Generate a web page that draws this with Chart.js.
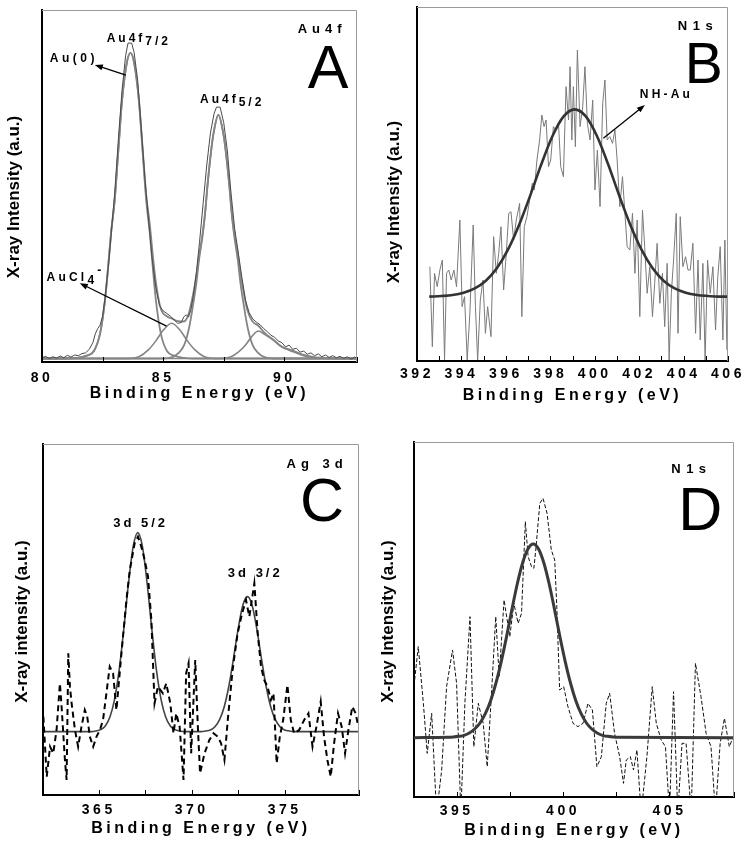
<!DOCTYPE html>
<html>
<head>
<meta charset="utf-8">
<script src="https://cdn.jsdelivr.net/npm/chart.js@4/dist/chart.umd.min.js"></script>
<style>
html,body{margin:0;padding:0;background:#fff;}
#wrap{position:relative;width:748px;height:853px;overflow:hidden;background:#fff;}
canvas{position:absolute;}
</style>
</head>
<body>
<div id="wrap">
<canvas id="cA" width="374" height="420" style="left:0;top:0"></canvas>
<canvas id="cB" width="374" height="420" style="left:374px;top:0"></canvas>
<canvas id="cC" width="374" height="433" style="left:0;top:420px"></canvas>
<canvas id="cD" width="374" height="433" style="left:374px;top:420px"></canvas>
</div>
<script>
// ---------------- DATA ----------------
// Panel A: Au4f  [binding energy (eV), intensity (a.u.)]
const aRaw = [[80.0,1.2],[80.15,1.6],[80.3,1.0],[80.45,1.5],[80.6,1.1],[80.75,1.7],[80.9,1.2],[81.05,1.9],[81.2,1.4],[81.35,2.0],[81.5,1.8],[81.65,2.4],[81.8,2.6],[81.95,3.6],[82.1,5.5],[82.2,8.0],[82.3,9.5],[82.4,10.5],[82.5,13],[82.6,18],[82.75,28],[82.9,40],[83.0,48],[83.15,63],[83.3,77],[83.45,87],[83.55,90.6],[83.7,90.6],[83.8,88],[83.95,80],[84.1,66],[84.25,52],[84.4,40],[84.55,29],[84.7,21],[84.85,16],[85.0,14.5],[85.15,13.8],[85.3,13],[85.45,12],[85.6,11],[85.75,11.2],[85.85,12.8],[85.95,13.4],[86.05,12.8],[86.15,15],[86.25,19],[86.38,26],[86.5,34],[86.65,45],[86.8,56],[86.95,65],[87.1,70.5],[87.2,72.4],[87.35,72.4],[87.5,68],[87.65,60],[87.8,48],[87.95,38],[88.1,31],[88.25,24],[88.4,17.5],[88.55,14],[88.7,12.2],[88.85,11.3],[89.0,10.6],[89.15,9.5],[89.3,8.6],[89.45,7.6],[89.6,7.0],[89.75,6.0],[89.9,5.5],[90.05,4.3],[90.2,4.8],[90.35,3.6],[90.5,3.9],[90.65,2.8],[90.8,3.1],[90.95,2.2],[91.1,2.6],[91.25,1.8],[91.4,2.3],[91.55,1.5],[91.7,2.0],[91.85,1.3],[92.0,1.8],[92.15,1.2],[92.3,1.6],[92.45,1.0],[92.6,1.5],[92.75,0.8],[92.9,1.4],[93.0,1.1]];
const aEnvelope = [[80,1],[81.45,1.2],[81.85,1.8],[82.15,3.2],[82.4,8.2],[82.6,17.6],[82.73,27],[82.85,36.6],[83.0,46],[83.15,60],[83.3,74],[83.5,85],[83.65,87.8],[83.8,85.1],[84.0,74.5],[84.15,61],[84.3,47.5],[84.45,39],[84.57,30.5],[84.7,22.6],[84.9,15.2],[85.15,13],[85.35,12.4],[85.6,11.6],[85.85,11.5],[86.05,13.6],[86.23,19],[86.38,24.9],[86.48,30],[86.63,36.7],[86.73,42.5],[86.83,50.3],[86.98,60],[87.08,65],[87.28,70.2],[87.48,65],[87.58,60.2],[87.73,50.4],[87.83,42.6],[87.93,36.9],[88.08,30.9],[88.18,25.5],[88.33,19.5],[88.48,14.6],[88.68,11.6],[88.93,10.3],[89.2,8.2],[89.55,6.3],[89.9,4.3],[90.37,3.2],[90.8,2.0],[91.3,1.3],[91.8,1.1],[93,1]];
const aAu0_72 = [[80,1],[81.05,1],[81.45,1.2],[81.85,1.8],[82.15,3.2],[82.4,8.2],[82.6,17.6],[82.73,27],[82.85,36.6],[83.0,46],[83.15,60],[83.3,74],[83.5,85],[83.65,87.8],[83.8,85],[84.0,74],[84.15,60],[84.3,46],[84.45,36.6],[84.57,27],[84.7,17.6],[84.9,8.2],[85.15,3.2],[85.45,1.8],[85.85,1.2],[86.25,1],[93,1]];
const aAu0_52 = [[80,1],[84.98,1],[85.38,1.4],[85.63,2.5],[85.88,5],[86.08,10],[86.23,16],[86.38,23],[86.48,29],[86.63,36],[86.73,42],[86.83,50],[86.98,60],[87.08,65],[87.28,70.2],[87.48,65],[87.58,60],[87.73,50],[87.83,42],[87.93,36],[88.08,29],[88.18,23],[88.33,16],[88.48,10],[88.68,5],[88.93,2.5],[89.18,1.4],[89.58,1],[93,1]];
const aAuCl_72 = [[80,1],[83.6,1],[84.0,1.5],[84.4,3.5],[84.7,6],[85.0,9],[85.35,11],[85.7,9],[86.0,6],[86.3,3.5],[86.7,1.5],[87.1,1],[93,1]];
const aAuCl_52 = [[80,1],[87.4,1],[87.8,1.5],[88.1,2.8],[88.4,4.8],[88.65,7.2],[88.93,8.8],[89.2,7.8],[89.55,6.2],[89.9,4.3],[90.37,2.9],[90.8,1.8],[91.3,1.2],[91.8,1],[93,1]];
const aTicks = {min:80, max:93, step:2.5, labelEvery:5};

// Panel B: N1s
const bRaw = [[392.58,320],[392.69,80],[392.79,300],[392.91,260],[393.03,310],[393.14,340],[393.24,40],[393.33,300],[393.43,310],[393.54,280],[393.66,310],[393.78,260],[393.93,460],[394.03,200],[394.14,230],[394.26,40],[394.38,180],[394.53,445],[394.63,200],[394.73,40],[394.85,220],[394.97,280],[395.08,120],[395.18,200],[395.33,110],[395.45,410],[395.57,300],[395.68,360],[395.78,440],[395.90,250],[396.02,360],[396.13,480],[396.23,485],[396.35,400],[396.47,460],[396.62,510],[396.72,170],[396.83,440],[396.95,470],[397.07,520],[397.19,570],[397.28,550],[397.40,640],[397.52,700],[397.62,775],[397.72,740],[397.81,760],[397.92,620],[398.02,640],[398.14,740],[398.26,730],[398.37,750],[398.47,620],[398.59,590],[398.71,860],[398.82,760],[398.89,920],[398.97,700],[399.04,860],[399.13,680],[399.22,970],[399.34,740],[399.46,800],[399.56,920],[399.67,750],[399.79,700],[399.91,820],[400.01,550],[400.12,670],[400.24,500],[400.36,810],[400.46,880],[400.56,700],[400.68,710],[400.80,690],[400.91,730],[401.01,640],[401.13,500],[401.25,590],[401.36,480],[401.46,380],[401.58,370],[401.70,480],[401.81,300],[401.91,460],[402.03,170],[402.15,490],[402.25,380],[402.36,240],[402.48,320],[402.60,170],[402.70,270],[402.81,390],[402.93,210],[403.05,300],[403.15,140],[403.26,330],[403.35,40],[403.45,240],[403.55,340],[403.67,480],[403.75,120],[403.85,470],[403.97,320],[404.09,350],[404.20,310],[404.30,310],[404.42,390],[404.54,120],[404.65,340],[404.75,100],[404.87,330],[404.97,40],[405.08,340],[405.20,240],[405.32,320],[405.44,130],[405.54,290],[405.65,380],[405.77,100],[405.86,400],[405.95,70]];
const bFit = [[392.55,230],[393.1,232],[393.6,235],[394.1,242],[394.6,255],[395.1,278],[395.6,316],[396.1,372],[396.6,446],[397.1,534],[397.6,628],[398.1,712],[398.6,771],[399.1,792],[399.6,771],[400.1,712],[400.6,628],[401.1,534],[401.6,446],[402.1,372],[402.6,316],[403.1,278],[403.6,255],[404.1,242],[404.6,235],[405.1,232],[405.6,230],[406.0,230]];
const bTicks = {min:392, max:406, step:1, labelEvery:2};

// Panel C: Ag 3d
const cRaw = [[362.02,410],[362.20,230],[362.38,320],[362.55,300],[362.73,370],[362.91,510],[363.00,440],[363.18,280],[363.27,220],[363.36,600],[363.45,500],[363.54,450],[363.72,370],[363.89,320],[364.07,380],[364.25,430],[364.38,410],[364.52,350],[364.70,320],[364.88,350],[365.06,370],[365.23,400],[365.41,480],[365.59,560],[365.77,540],[365.95,430],[366.22,600],[366.49,760],[366.67,850],[366.93,930],[367.11,950],[367.29,920],[367.47,880],[367.65,830],[367.83,700],[368.00,450],[368.18,500],[368.45,480],[368.63,510],[368.85,450],[369.02,360],[369.17,420],[369.35,380],[369.56,220],[369.70,540],[369.83,570],[369.97,300],[370.19,580],[370.33,380],[370.45,240],[370.69,300],[370.95,340],[371.17,360],[371.40,350],[371.58,330],[371.76,280],[371.94,400],[372.20,550],[372.47,660],[372.71,720],[372.92,760],[373.10,710],[373.37,810],[373.55,660],[373.73,560],[373.90,520],[374.08,500],[374.26,460],[374.40,480],[374.57,270],[374.74,350],[374.92,400],[375.15,505],[375.33,400],[375.51,360],[375.78,370],[376.05,400],[376.28,420],[376.50,320],[376.71,380],[376.94,455],[377.12,350],[377.30,280],[377.48,230],[377.66,330],[377.87,420],[378.07,380],[378.25,300],[378.43,370],[378.64,440],[378.82,420],[378.96,380]];
const cFit = [[362,365],[364.6,365],[364.85,367],[365.1,371],[365.35,382],[365.6,409],[365.85,462],[366.1,551],[366.35,675],[366.6,811],[366.85,920],[367.1,962],[367.35,920],[367.6,811],[367.85,675],[368.1,551],[368.35,462],[368.6,409],[368.85,382],[369.1,371],[369.35,367],[369.6,365],[370.5,365],[370.75,367],[371.0,370],[371.25,380],[371.5,401],[371.75,440],[372.0,502],[372.25,585],[372.5,674],[372.75,744],[373.0,770],[373.25,744],[373.5,674],[373.75,585],[374.0,502],[374.25,440],[374.5,401],[374.75,380],[375.0,370],[375.25,367],[375.5,365],[379,365]];
const cTicks = {min:362, max:379, step:2.5, labelEvery:5};

// Panel D: N1s
const dRaw = [[393.03,370],[393.20,470],[393.44,300],[393.62,150],[393.83,270],[394.06,-30],[394.30,100],[394.53,350],[394.81,460],[395.00,360],[395.20,-30],[395.39,300],[395.63,560],[395.81,170],[396.02,300],[396.25,240],[396.44,110],[396.64,330],[396.84,560],[397.00,380],[397.23,610],[397.50,500],[397.69,600],[397.89,540],[398.05,570],[398.23,845],[398.36,740],[398.52,710],[398.63,705],[398.72,760],[398.91,900],[399.06,915],[399.25,870],[399.45,760],[399.61,730],[399.72,570],[399.84,340],[400.03,350],[400.23,290],[400.47,240],[400.70,230],[400.94,240],[401.17,300],[401.38,280],[401.59,110],[401.80,140],[402.03,300],[402.19,330],[402.42,210],[402.66,140],[402.84,60],[402.97,130],[403.16,140],[403.31,100],[403.47,160],[403.67,-30],[403.94,140],[404.19,350],[404.38,240],[404.61,190],[404.81,170],[405.00,-30],[405.19,335],[405.39,-30],[405.59,180],[405.78,180],[406.02,-30],[406.22,420],[406.48,320],[406.72,210],[406.95,170],[407.16,-30],[407.38,180],[407.58,255],[407.81,170],[408.0,200]];
const dFit = [[393,197],[394.6,198],[394.85,199],[395.1,201],[395.35,204],[395.6,211],[395.85,223],[396.1,241],[396.35,269],[396.6,308],[396.85,361],[397.1,426],[397.35,501],[397.6,582],[397.85,658],[398.1,721],[398.35,763],[398.6,778],[398.85,763],[399.1,721],[399.35,658],[399.6,582],[399.85,501],[400.1,426],[400.35,361],[400.6,308],[400.85,269],[401.1,241],[401.35,223],[401.6,211],[401.85,204],[402.1,201],[402.35,199],[402.6,198],[408,197]];
const dTicks = {min:393, max:408.03, step:2.5, labelEvery:5};

// Text labels
const xTitle = 'Binding Energy (eV)';
const yTitleA = 'X-ray Intensity (a.u.)';
const yTitleC = 'X-ray intensity (a.u.)';

// ---------------- RENDER ----------------
const FONT = "'Liberation Sans', Arial, Helvetica, sans-serif";
const pts = arr => arr.map(p => ({x: p[0], y: p[1]}));

function drawNote(ctx, xs, ys, n) {
  if (n.arrow) {
    const x1 = xs.getPixelForValue(n.arrow[0]), y1 = ys.getPixelForValue(n.arrow[1]);
    const x2 = xs.getPixelForValue(n.arrow[2]), y2 = ys.getPixelForValue(n.arrow[3]);
    const ang = Math.atan2(y2 - y1, x2 - x1), L = 8, Wd = 3;
    ctx.strokeStyle = '#000'; ctx.fillStyle = '#000'; ctx.lineWidth = 1.3;
    ctx.beginPath(); ctx.moveTo(x1, y1);
    ctx.lineTo(x2 - Math.cos(ang) * L * 0.8, y2 - Math.sin(ang) * L * 0.8); ctx.stroke();
    ctx.beginPath(); ctx.moveTo(x2, y2);
    ctx.lineTo(x2 - Math.cos(ang) * L - Math.sin(ang) * Wd, y2 - Math.sin(ang) * L + Math.cos(ang) * Wd);
    ctx.lineTo(x2 - Math.cos(ang) * L + Math.sin(ang) * Wd, y2 - Math.sin(ang) * L - Math.cos(ang) * Wd);
    ctx.closePath(); ctx.fill();
    return;
  }
  const px = xs.getPixelForValue(n.x), py = ys.getPixelForValue(n.y);
  const weight = n.weight || 'bold';
  ctx.letterSpacing = (n.sp || 0) + 'px';
  ctx.fillStyle = '#000'; ctx.textBaseline = 'alphabetic'; ctx.textAlign = 'left';
  let total = 0;
  n.parts.forEach(p => { ctx.font = weight + ' ' + p[1] + 'px ' + FONT; total += ctx.measureText(p[0]).width; });
  let cx = n.align === 'center' ? px - total / 2 : px;
  n.parts.forEach(p => {
    ctx.font = weight + ' ' + p[1] + 'px ' + FONT;
    ctx.fillText(p[0], cx, py + p[2]);
    cx += ctx.measureText(p[0]).width;
  });
  ctx.letterSpacing = '0px';
}

function makePanel(spec) {
  const el = document.getElementById(spec.canvas);
  const decor = {
    id: 'decor',
    beforeDraw(chart) {
      const xs = chart.scales.x, ys = chart.scales.y, ctx = chart.ctx;
      if (!xs.__wrapped) {
        const oL = xs.drawLabels, oT = xs.drawTitle, oY = ys.drawTitle;
        xs.drawLabels = function (a) { ctx.save(); ctx.letterSpacing = spec.tickSp + 'px'; oL.call(this, a); ctx.restore(); };
        xs.drawTitle = function (a) { ctx.save(); ctx.letterSpacing = spec.xTitleSp + 'px'; oT.call(this, a); ctx.restore(); };
        ys.drawTitle = function (a) { ctx.save(); ctx.letterSpacing = '0px'; ctx.translate(0, spec.yShift); oY.call(this, a); ctx.restore(); };
        xs.__wrapped = true;
      }
    },
    afterDraw(chart) {
      const ctx = chart.ctx, a = chart.chartArea, xs = chart.scales.x, ys = chart.scales.y;
      ctx.save();
      ctx.strokeStyle = '#9a9a9a'; ctx.lineWidth = 1;
      ctx.beginPath();
      ctx.moveTo(a.left, a.top + 0.5); ctx.lineTo(a.right - 0.5, a.top + 0.5); ctx.lineTo(a.right - 0.5, a.bottom);
      ctx.stroke();
      ctx.strokeStyle = '#000'; ctx.lineWidth = 1;
      xs.ticks.forEach(t => {
        const px = Math.round(xs.getPixelForValue(t.value)) + 0.5;
        ctx.beginPath(); ctx.moveTo(px, a.bottom); ctx.lineTo(px, a.bottom - 5); ctx.stroke();
      });
      spec.notes.forEach(n => drawNote(ctx, xs, ys, n));
      ctx.restore();
    }
  };
  const T = spec.ticks;
  return new Chart(el, {
    type: 'line',
    data: { datasets: spec.datasets },
    options: {
      responsive: false, animation: false, devicePixelRatio: 1,
      layout: { padding: { top: spec.padTop, right: spec.padRight, left: 0, bottom: 0 } },
      plugins: { legend: { display: false }, tooltip: { enabled: false } },
      elements: { point: { radius: 0 } },
      scales: {
        x: {
          type: 'linear', min: T.min, max: T.max,
          ticks: {
            stepSize: T.step, maxTicksLimit: 50, autoSkip: false, maxRotation: 0, minRotation: 0,
            padding: spec.tickPad, color: '#000', font: { family: FONT, size: 14, weight: 'bold' },
            callback: v => (Math.abs(v / T.labelEvery - Math.round(v / T.labelEvery)) < 1e-6 ? String(v) : '')
          },
          grid: { display: false, drawTicks: false },
          border: { display: true, color: '#000', width: 2 },
          title: { display: true, text: xTitle, color: '#000', font: { family: FONT, size: 16, weight: 'bold' }, padding: { top: 0, bottom: spec.xTitlePad } },
          afterFit: s => { s.height = spec.xHeight; }
        },
        y: {
          type: 'linear', min: spec.yMin, max: spec.yMax,
          ticks: { display: false },
          grid: { display: false, drawTicks: false },
          border: { display: true, color: '#000', width: 2 },
          title: { display: true, text: spec.yTitle, color: '#000', font: { family: FONT, size: 17, weight: 'bold' }, padding: { top: spec.yTitlePad, bottom: 0 } },
          afterFit: s => { s.width = spec.yWidth; }
        }
      }
    },
    plugins: [decor]
  });
}

const grey = '#858585';
makePanel({
  canvas: 'cA', ticks: aTicks, yMin: 0, yMax: 100, yTitle: yTitleA,
  padTop: 10, padRight: 17, xHeight: 58, yWidth: 42, tickPad: 8, xTitlePad: 16.4, yTitlePad: 4, yShift: 11,
  tickSp: 3.5, xTitleSp: 3.5,
  datasets: [
    { data: pts(aRaw), borderColor: '#4a4a4a', borderWidth: 1, tension: 0 },
    { data: pts(aEnvelope), borderColor: grey, borderWidth: 1.8, cubicInterpolationMode: 'monotone' },
    { data: pts(aAu0_72), borderColor: grey, borderWidth: 1.8, cubicInterpolationMode: 'monotone' },
    { data: pts(aAu0_52), borderColor: grey, borderWidth: 1.8, cubicInterpolationMode: 'monotone' },
    { data: pts(aAuCl_72), borderColor: grey, borderWidth: 1.6, cubicInterpolationMode: 'monotone' },
    { data: pts(aAuCl_52), borderColor: grey, borderWidth: 1.6, cubicInterpolationMode: 'monotone' }
  ],
  notes: [
    { x: 82.67, y: 90.9, parts: [['Au4f', 12, 0], ['7/2', 12, 3]], sp: 3, align: 'left' },
    { x: 80.32, y: 85.2, parts: [['Au(0)', 12, 0]], sp: 3.5, align: 'left' },
    { arrow: [83.46, 81.5, 82.18, 84.4] },
    { x: 86.52, y: 73.6, parts: [['Au4f', 12, 0], ['5/2', 12, 3]], sp: 3, align: 'left' },
    { x: 80.19, y: 23.0, parts: [['AuCl', 12, 0], ['4', 12, 3], ['-', 12, -7]], sp: 3.2, align: 'left' },
    { arrow: [85.14, 10.2, 81.56, 22.4] },
    { x: 91.56, y: 93.5, parts: [['Au4f', 13, 0]], sp: 5, align: 'center' },
    { x: 91.81, y: 77.8, parts: [['A', 61, 0]], sp: 0, align: 'center', weight: 'normal' }
  ]
});

makePanel({
  canvas: 'cB', ticks: bTicks, yMin: 37, yMax: 1099, yTitle: yTitleA,
  padTop: 7, padRight: 20, xHeight: 59, yWidth: 43, tickPad: 5, xTitlePad: 14.4, yTitlePad: 10, yShift: 18,
  tickSp: 3.5, xTitleSp: 3.5,
  datasets: [
    { data: pts(bFit), borderColor: '#333', borderWidth: 2.6, cubicInterpolationMode: 'monotone' },
    { data: pts(bRaw), borderColor: '#7a7a7a', borderWidth: 1, tension: 0 }
  ],
  notes: [
    { x: 404.65, y: 1030, parts: [['N1s', 13, 0]], sp: 5.5, align: 'center' },
    { x: 404.91, y: 871, parts: [['B', 57, 0]], sp: 0, align: 'center', weight: 'normal' },
    { x: 402.03, y: 826, parts: [['NH-Au', 12, 0]], sp: 3.2, align: 'left' },
    { arrow: [400.39, 705, 402.26, 805] }
  ]
});

makePanel({
  canvas: 'cC', ticks: cTicks, yMin: 175, yMax: 1228, yTitle: yTitleC,
  padTop: 24, padRight: 15, xHeight: 58, yWidth: 43, tickPad: 7, xTitlePad: 14.4, yTitlePad: 12, yShift: 2,
  tickSp: 3.5, xTitleSp: 3.5,
  datasets: [
    { data: pts(cRaw), borderColor: '#000', borderWidth: 2, borderDash: [6, 4], tension: 0 },
    { data: pts(cFit), borderColor: '#444', borderWidth: 1.6, cubicInterpolationMode: 'monotone' }
  ],
  notes: [
    { x: 376.75, y: 1156, parts: [['Ag 3d', 13, 0]], sp: 5, align: 'center' },
    { x: 377.01, y: 997, parts: [['C', 61, 0]], sp: 0, align: 'center', weight: 'normal' },
    { x: 367.25, y: 979, parts: [['3d 5/2', 13, 0]], sp: 3, align: 'center' },
    { x: 373.42, y: 829, parts: [['3d 3/2', 13, 0]], sp: 3, align: 'center' }
  ]
});

makePanel({
  canvas: 'cD', ticks: dTicks, yMin: 19, yMax: 1084, yTitle: yTitleA,
  padTop: 22, padRight: 14, xHeight: 56, yWidth: 40, tickPad: 6, xTitlePad: 12.4, yTitlePad: 4, yShift: 2,
  tickSp: 3.5, xTitleSp: 3.5,
  datasets: [
    { data: pts(dFit), borderColor: '#3a3a3a', borderWidth: 3, cubicInterpolationMode: 'monotone' },
    { data: pts(dRaw), borderColor: '#111', borderWidth: 1, borderDash: [4, 2], tension: 0 }
  ],
  notes: [
    { x: 406.03, y: 991, parts: [['N1s', 13, 0]], sp: 5.5, align: 'center' },
    { x: 406.45, y: 820, parts: [['D', 61, 0]], sp: 0, align: 'center', weight: 'normal' }
  ]
});
</script>
</body>
</html>
